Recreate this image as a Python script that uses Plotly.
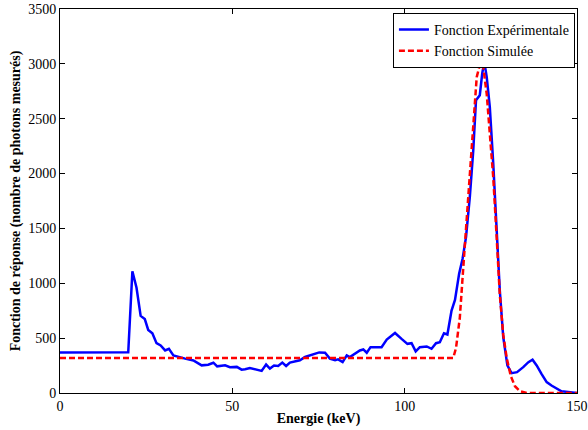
import plotly.graph_objects as go

# Experimental response (energy keV, counts)
exp_energy = [0, 19.8, 21.0, 22.2, 23.4, 24.6, 25.6, 26.8, 28.0, 29.2, 30.5, 31.6, 32.9, 34.3, 36.3,
              38.7, 39.8, 41.1, 43.0, 44.5, 45.6, 47.9, 49.3, 51.3, 52.7, 53.7, 55.1, 56.6, 58.5,
              59.8, 60.9, 62.1, 63.3, 64.5, 65.6, 66.7, 68.2, 69.6, 71.1, 72.5, 74.0, 75.2, 76.9,
              78.3, 79.8, 80.7, 82.0, 83.2, 84.1, 85.6, 87.0, 88.0, 89.0, 90.1, 91.4, 93.3, 94.8,
              97.2, 99.1, 100.8, 102.0, 103.2, 104.4, 106.4, 107.8, 109.1, 110.2, 111.4, 112.4,
              113.6, 114.6, 115.8, 116.8, 117.8, 118.9, 119.9, 120.7, 121.8, 122.5, 123.1, 123.8,
              124.7, 125.7, 126.7, 127.6, 128.6, 129.8, 131.0, 132.6, 134.4, 135.9, 137.1, 138.3,
              139.7, 141.2, 142.6, 144.1, 145.5, 150]
exp_counts = [370, 372, 1110, 959, 703, 674, 575, 544, 454, 433, 388, 403, 343, 328, 313,
              297, 273, 252, 258, 276, 243, 252, 235, 238, 213, 216, 228, 213, 201,
              259, 223, 250, 246, 277, 246, 277, 289, 298, 328, 343, 352, 370, 367,
              313, 298, 307, 282, 343, 328, 358, 388, 397, 367, 418, 418, 418, 487,
              547, 493, 448, 454, 379, 418, 424, 403, 454, 463, 545, 533,
              752, 849, 1086, 1223, 1420, 1785, 2212, 2668, 2714, 2912, 3018, 2881,
              2607, 2090, 1511, 936, 510, 251, 181, 190, 236, 281, 303, 251,
              175, 99, 68, 38, 16, 0]

# Simulated response
sim_energy = [0, 114.1, 114.9, 116.0, 117.0, 118.0, 118.9, 119.9, 120.9, 122.0, 122.8, 123.8,
              124.7, 125.7, 126.7, 127.6, 128.6, 129.6, 130.8, 132.0, 133.5, 135.4, 150]
sim_counts = [320, 320, 411, 685, 1141, 1568, 1934, 2452, 2878, 3016, 2970, 2727,
              2361, 1964, 1416, 897, 532, 320, 153, 62, 16, 0, 0]

x_ticks = [0, 50, 100, 150]
y_ticks = [0, 500, 1000, 1500, 2000, 2500, 3000, 3500]

FONT = "Liberation Serif"

fig = go.Figure()
fig.add_trace(go.Scatter(x=exp_energy, y=exp_counts, mode="lines",
                         name="Fonction Expérimentale",
                         line=dict(color="#0000ff", width=2.5)))
fig.add_trace(go.Scatter(x=sim_energy, y=sim_counts, mode="lines",
                         name="Fonction Simulée",
                         line=dict(color="#ff0000", width=2.5, dash="6px,3px")))

axis_common = dict(showline=True, linecolor="black", linewidth=1, mirror="allticks",
                   ticks="inside", ticklen=5, tickcolor="black", showgrid=False,
                   zeroline=False, automargin=False,
                   tickfont=dict(family=FONT, size=14, color="black"))

fig.update_xaxes(range=[0, 150], tickvals=x_ticks,
                 title=dict(text="<b>Energie (keV)</b>", standoff=0,
                            font=dict(family=FONT, size=14, color="black")),
                 **axis_common)
fig.update_yaxes(range=[0, 3500], tickvals=y_ticks,
                 title=dict(text="<b>Fonction de réponse (nombre de photons mesurés)</b>", standoff=4,
                            font=dict(family=FONT, size=14, color="black")),
                 **axis_common)

fig.update_layout(
    width=588, height=430,
    margin=dict(l=60, r=11, t=9, b=37),
    paper_bgcolor="white", plot_bgcolor="white",
    font=dict(family=FONT, size=14, color="black"),
    legend=dict(x=0.996, y=0.99, xanchor="right", yanchor="top",
                bgcolor="white", bordercolor="black", borderwidth=1,
                font=dict(family=FONT, size=14, color="black"),
                itemwidth=30, tracegroupgap=0),
    showlegend=True,
)

fig.write_html("out.html", config={"displayModeBar": False},
               post_script="document.body.style.margin='0';document.body.style.overflow='hidden';")
